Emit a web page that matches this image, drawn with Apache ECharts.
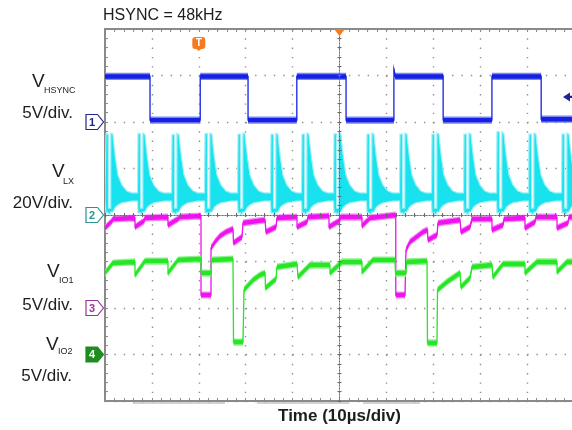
<!DOCTYPE html>
<html><head><meta charset="utf-8">
<script src="https://cdn.jsdelivr.net/npm/echarts@6/dist/echarts.min.js"></script>
<style>html,body{margin:0;padding:0;background:#fff}#c{width:572px;height:430px}</style>
</head><body><div id="c"></div>
<script>
// ================= DATA (time in µs, values in volts) =================
const timeRangeUs = [0, 100];           // 10 divisions, 10 µs/div
const titleText = 'HSYNC = 48kHz';
const xAxisTitle = 'Time (10µs/div)';
const channelNames = ['1', '2', '3', '4'];
const channelLabels = [
  { v: 'V', sub: 'HSYNC', scale: '5V/div.' },
  { v: 'V', sub: 'LX', scale: '20V/div.' },
  { v: 'V', sub: 'IO1', scale: '5V/div.' },
  { v: 'V', sub: 'IO2', scale: '5V/div.' }
];
const groundVolts = [0, 0, 0, 0];
const triggerTimeUs = 20;
const centerTimeUs = 50;
const triggerLevelV = 2.7;

// CH1 HSYNC, 5 V/div  [µs, V]
const ch1 = [[0,4.9],[9.6,4.9],[9.6,0.2],[20.3,0.2],[20.3,4.9],[30.5,4.9],[30.5,0.2],[40.9,0.2],[40.9,4.9],
  [51.4,4.9],[51.4,0.2],[61.6,0.2],[61.6,5.6],[61.9,4.9],[72.1,4.9],[72.1,0.2],[82.5,0.2],[82.5,4.9],
  [93.0,4.9],[93.0,0.3],[100.5,0.3]];

// CH2 LX, 20 V/div  [µs, upper envelope V, lower envelope V]
const ch2 = [
  [0,9.5,6.0],[0.2,34.8,0.9],[0.73,34.8,0.9],[0.75,3.0,0.4],[1.22,3.0,0.4],[1.24,35.3,1.3],[1.69,34.8,1.3],[1.91,30.1,2.2],[2.23,24.5,3.4],[2.76,17.2,4.3],[3.61,12.9,5.2],[4.68,10.3,5.6],[5.74,9.5,6.0],
  [6.93,9.5,6.0],[7.04,35.0,0.9],[7.57,35.0,0.9],[7.59,3.0,0.4],[8.06,3.0,0.4],[8.08,35.3,1.3],[8.53,34.6,1.3],[8.75,30.0,2.2],[9.07,24.3,3.4],[9.60,17.0,4.3],[10.45,12.8,5.2],[11.52,10.3,5.6],[12.58,9.5,6.0],
  [14.18,9.5,6.0],[14.29,34.6,0.9],[14.82,34.6,0.9],[14.84,3.0,0.4],[15.31,3.0,0.4],[15.33,35.1,1.3],[15.78,34.6,1.3],[16.00,30.1,2.2],[16.32,24.6,3.4],[16.85,17.3,4.3],[17.70,12.9,5.2],[18.77,10.4,5.6],[19.83,9.5,6.0],
  [21.21,9.5,6.0],[21.32,35.0,0.9],[21.85,35.0,0.9],[21.87,3.0,0.4],[22.34,3.0,0.4],[22.36,35.3,1.3],[22.81,34.8,1.3],[23.03,30.2,2.2],[23.35,24.5,3.4],[23.88,17.2,4.3],[24.73,12.9,5.2],[25.80,10.3,5.6],[26.86,9.5,6.0],
  [28.25,9.5,6.0],[28.36,34.8,0.9],[28.89,34.8,0.9],[28.91,3.0,0.4],[29.38,3.0,0.4],[29.40,35.3,1.3],[29.85,34.8,1.3],[30.07,30.1,2.2],[30.39,24.5,3.4],[30.92,17.2,4.3],[31.77,12.9,5.2],[32.84,10.3,5.6],[33.90,9.5,6.0],
  [35.28,9.5,6.0],[35.39,34.7,0.9],[35.92,34.7,0.9],[35.94,3.0,0.4],[36.41,3.0,0.4],[36.43,35.2,1.3],[36.88,34.7,1.3],[37.10,30.0,2.2],[37.42,24.4,3.4],[37.95,17.1,4.3],[38.80,12.8,5.2],[39.87,10.3,5.6],[40.93,9.5,6.0],
  [41.89,9.5,6.0],[42.00,34.8,0.9],[42.53,34.8,0.9],[42.55,3.0,0.4],[43.02,3.0,0.4],[43.04,35.3,1.3],[43.49,34.8,1.3],[43.71,30.1,2.2],[44.03,24.5,3.4],[44.56,17.2,4.3],[45.41,12.9,5.2],[46.48,10.3,5.6],[47.54,9.5,6.0],
  [48.72,9.5,6.0],[48.83,34.9,0.9],[49.36,34.9,0.9],[49.38,3.0,0.4],[49.85,3.0,0.4],[49.87,35.3,1.3],[50.32,34.8,1.3],[50.54,30.1,2.2],[50.86,24.5,3.4],[51.39,17.2,4.3],[52.24,12.9,5.2],[53.31,10.3,5.6],[54.37,9.5,6.0],
  [55.75,9.5,6.0],[55.86,34.8,0.9],[56.39,34.8,0.9],[56.41,3.0,0.4],[56.88,3.0,0.4],[56.90,35.3,1.3],[57.35,34.8,1.3],[57.57,30.1,2.2],[57.89,24.5,3.4],[58.42,17.2,4.3],[59.27,12.9,5.2],[60.34,10.3,5.6],[61.40,9.5,6.0],
  [62.79,9.5,6.0],[62.90,34.8,0.9],[63.43,34.8,0.9],[63.45,3.0,0.4],[63.92,3.0,0.4],[63.94,35.3,1.3],[64.39,34.8,1.3],[64.61,30.1,2.2],[64.93,24.5,3.4],[65.46,17.2,4.3],[66.31,12.9,5.2],[67.38,10.3,5.6],[68.44,9.5,6.0],
  [69.61,9.5,6.0],[69.72,34.8,0.9],[70.25,34.8,0.9],[70.27,3.0,0.4],[70.74,3.0,0.4],[70.76,35.3,1.3],[71.21,34.8,1.3],[71.43,30.1,2.2],[71.75,24.5,3.4],[72.28,17.2,4.3],[73.13,12.9,5.2],[74.20,10.3,5.6],[75.26,9.5,6.0],
  [76.44,9.5,6.0],[76.55,34.8,0.9],[77.08,34.8,0.9],[77.10,3.0,0.4],[77.57,3.0,0.4],[77.59,35.3,1.3],[78.04,34.8,1.3],[78.26,30.1,2.2],[78.58,24.5,3.4],[79.11,17.2,4.3],[79.96,12.9,5.2],[81.03,10.3,5.6],[82.09,9.5,6.0],
  [83.47,9.5,6.0],[83.58,35.8,0.9],[84.11,35.8,0.9],[84.13,3.0,0.4],[84.60,3.0,0.4],[84.62,35.8,1.3],[85.07,35.0,1.3],[85.29,30.3,2.2],[85.61,24.6,3.4],[86.14,17.3,4.3],[86.99,12.9,5.2],[88.06,10.3,5.6],[89.12,9.5,6.0],
  [90.30,9.5,6.0],[90.41,34.8,0.9],[90.94,34.8,0.9],[90.96,3.0,0.4],[91.43,3.0,0.4],[91.45,35.3,1.3],[91.90,34.8,1.3],[92.12,30.1,2.2],[92.44,24.5,3.4],[92.97,17.2,4.3],[93.82,12.9,5.2],[94.89,10.3,5.6],[95.95,9.5,6.0],
  [97.33,9.5,6.0],[97.44,34.8,0.9],[97.97,34.8,0.9],[97.99,3.0,0.4],[98.46,3.0,0.4],[98.48,35.3,1.3],[98.93,34.8,1.3],[99.15,30.1,2.2],[99.47,24.5,3.4],[100.00,17.2,4.3],[100.85,12.9,5.2]
];

// CH3 IO1, 5 V/div  [µs, V]
const ch3 = [[0,8.6],[1.49,9.35],[1.71,9.57],[6.40,9.68],[6.40,8.71],[8.32,9.35],[8.53,9.68],[13.43,9.78],[13.43,8.92],
  [15.57,9.57],[15.99,9.78],[20.47,9.89],[20.47,1.40],[22.60,1.40],[22.60,6.45],[23.45,7.10],[24.52,7.74],[25.80,8.17],
  [27.29,8.49],[27.40,6.99],[29.21,7.63],[29.42,9.14],[34.12,9.46],[34.33,8.17],[36.46,8.71],[36.67,9.68],[40.94,9.78],
  [40.94,8.71],[43.07,9.25],[43.28,9.78],[47.76,9.89],[47.76,8.71],[49.89,9.35],[50.32,9.78],[54.80,9.78],[54.80,8.82],
  [56.50,9.68],[62.0,10.0],[62.0,1.40],[63.97,1.40],[64.18,6.24],[65.03,7.10],[67.80,8.17],[68.76,8.39],[68.87,7.31],
  [70.79,7.85],[71.00,9.14],[75.69,9.46],[75.91,8.17],[77.83,8.71],[78.25,9.57],[82.52,9.57],[82.52,8.39],[84.86,8.92],
  [85.07,9.57],[89.55,9.68],[89.55,8.60],[91.68,9.25],[91.90,9.78],[96.38,9.78],[96.38,8.60],[98.72,9.14],[98.93,9.78],[100.5,9.78]];

// CH4 IO2, 5 V/div  [µs, V]
const ch4 = [[0,8.76],[1.71,9.84],[6.40,9.95],[6.40,8.55],[8.53,10.05],[13.43,10.05],[13.43,8.76],[15.57,10.16],[20.47,10.27],
  [20.47,8.76],[22.60,8.76],[22.71,10.16],[27.29,10.27],[27.40,1.34],[29.42,1.34],[29.64,6.94],[31.56,8.01],[33.05,8.55],
  [34.12,8.76],[34.22,7.15],[36.46,8.12],[36.67,9.41],[40.94,9.73],[41.15,8.33],[43.71,9.62],[47.97,9.62],[47.97,8.76],
  [50.53,9.95],[54.80,9.95],[54.80,8.87],[57.14,10.16],[61.83,10.16],[61.94,8.76],[64.18,8.76],[64.29,9.95],[68.66,10.05],
  [68.76,1.24],[70.79,1.24],[70.90,6.94],[72.92,7.80],[75.69,8.76],[75.91,7.26],[77.83,8.23],[78.25,9.41],[82.52,9.62],
  [82.73,8.33],[84.86,9.73],[89.55,9.73],[89.55,8.76],[92.11,9.95],[96.38,9.95],[96.38,8.87],[98.51,9.95],[100.5,9.95]];

// ================= CHART =================
const FONT = '"Liberation Sans", Arial, sans-serif';
const chart = echarts.init(document.getElementById('c'));

function bandPts(pts, h) {
  const up = pts.map(p => [p[0], p[1] - h]);
  const dn = pts.slice().reverse().map(p => [p[0], p[1] + h]);
  return up.concat(dn);
}
function traceSeries(data, yIdx, main, fringe) {
  return {
    type: 'custom', xAxisIndex: 0, yAxisIndex: yIdx, data: data, clip: true, silent: true, z: 3,
    renderItem: function (params, api) {
      if (params.dataIndex !== 0) return null;
      const pts = data.map(d => api.coord([d[0], d[1]]));
      return { type: 'group', children: [
        { type: 'polygon', shape: { points: bandPts(pts, 3.6) }, style: { fill: fringe } },
        { type: 'polygon', shape: { points: bandPts(pts, 2.2) }, style: { fill: main } },
        { type: 'polyline', shape: { points: pts }, style: { stroke: main, lineWidth: 1.3, fill: null } }
      ]};
    }
  };
}
function txt(text, x, y, size, align, extra) {
  return Object.assign({ type: 'text', z: 20, style: {
    text: text, x: x, y: y, font: size + 'px ' + FONT, fill: '#1d1d1b',
    align: align, textAlign: align, verticalAlign: 'middle', textVerticalAlign: 'middle'
  }}, extra || {});
}

const borderAxis = {
  axisLine: { onZero: false, lineStyle: { color: '#8a8a8a', width: 2 } },
  axisTick: { show: true, inside: true, length: 3, lineStyle: { color: '#8a8a8a', width: 1 } },
  minorTick: { show: true, splitNumber: 5, length: 3, lineStyle: { color: '#8a8a8a', width: 1 } },
  axisLabel: { show: false }
};
const centerAxis = {
  z: 10,
  axisLine: { onZero: false, lineStyle: { color: '#6a6a6a', width: 1, type: [1, 2] } },
  axisTick: { show: true, inside: true, length: 2, lineStyle: { color: '#6a6a6a', width: 1 } },
  minorTick: { show: true, splitNumber: 5, length: 2, lineStyle: { color: '#6a6a6a', width: 1 } },
  axisLabel: { show: false }, splitLine: { show: false }
};
const xBase = { type: 'value', min: timeRangeUs[0], max: timeRangeUs[1], interval: 10 };
const yBase = { type: 'value', min: -4, max: 4, interval: 1 };

const markerStyles = [
  { fill: '#ffffff', stroke: '#25258c', text: '#25258c' },
  { fill: '#ffffff', stroke: '#2a9292', text: '#2a9292' },
  { fill: '#ffffff', stroke: '#9c309c', text: '#9c309c' },
  { fill: '#1f8c1f', stroke: '#1f8c1f', text: '#ffffff' }
];

const series = [
  traceSeries(ch1, 1, '#1422e2', '#7f86f0'),
  {
    type: 'custom', xAxisIndex: 0, yAxisIndex: 2, data: ch2, clip: true, silent: true, z: 3,
    renderItem: function (params, api) {
      if (params.dataIndex !== 0) return null;
      const up = ch2.map(d => api.coord([d[0], d[1]]));
      const lo = ch2.map(d => api.coord([d[0], d[2]])).reverse();
      return { type: 'polygon', shape: { points: up.concat(lo) },
        style: { fill: '#17e2ee', stroke: '#9ff0f6', lineWidth: 1.2 } };
    }
  },
  traceSeries(ch3, 3, '#ee14ee', '#f58cf5'),
  traceSeries(ch4, 4, '#26e626', '#93f093')
];

channelNames.forEach(function (name, k) {
  series.push({
    type: 'custom', xAxisIndex: 0, yAxisIndex: k + 1, data: [[timeRangeUs[0], groundVolts[k]]],
    clip: false, silent: true, z: 6,
    renderItem: function (params, api) {
      const p = api.coord([api.value(0), api.value(1)]);
      const x = p[0], y = p[1], s = markerStyles[k];
      return { type: 'group', children: [
        { type: 'polygon', shape: { points: [[x - 19, y - 7.5], [x - 7.5, y - 7.5], [x - 1.5, y], [x - 7.5, y + 7.5], [x - 19, y + 7.5]] },
          style: { fill: s.fill, stroke: s.stroke, lineWidth: 1.2 } },
        { type: 'text', style: { text: name, x: x - 13, y: y + 0.5, font: 'bold 11px ' + FONT, fill: s.text,
          align: 'center', textAlign: 'center', verticalAlign: 'middle', textVerticalAlign: 'middle' } }
      ]};
    }
  });
});

// trigger position "T" marker and horizontal-position triangle
series.push({
  type: 'custom', xAxisIndex: 0, yAxisIndex: 0, data: [[triggerTimeUs, 4]], clip: false, silent: true, z: 6,
  renderItem: function (params, api) {
    const p = api.coord([api.value(0), api.value(1)]);
    const x = p[0], y = p[1];
    return { type: 'group', children: [
      { type: 'rect', shape: { x: x - 6.5, y: y + 8, width: 13, height: 12, r: 3 }, style: { fill: '#f47b20' } },
      { type: 'polygon', shape: { points: [[x - 3.5, y + 19], [x + 3.5, y + 19], [x, y + 22]] }, style: { fill: '#f47b20' } },
      { type: 'text', style: { text: 'T', x: x, y: y + 14.5, font: 'bold 10px ' + FONT, fill: '#fff',
        align: 'center', textAlign: 'center', verticalAlign: 'middle', textVerticalAlign: 'middle' } }
    ]};
  }
});
series.push({
  type: 'custom', xAxisIndex: 0, yAxisIndex: 0, data: [[centerTimeUs, 4]], clip: false, silent: true, z: 12,
  renderItem: function (params, api) {
    const p = api.coord([api.value(0), api.value(1)]);
    return { type: 'polygon', shape: { points: [[p[0] - 5.5, p[1]], [p[0] + 5.5, p[1]], [p[0], p[1] + 7]] },
      style: { fill: '#f47b20' } };
  }
});
// trigger level arrow (channel 1)
series.push({
  type: 'custom', xAxisIndex: 0, yAxisIndex: 1, data: [[timeRangeUs[1], triggerLevelV]], clip: false, silent: true, z: 6,
  renderItem: function (params, api) {
    const p = api.coord([api.value(0), api.value(1)]);
    const x = p[0], y = p[1];
    return { type: 'polygon', shape: { points: [[x - 11, y], [x - 4, y - 4.5], [x - 4, y - 1.2], [x, y - 1.2], [x, y + 1.2], [x - 4, y + 1.2], [x - 4, y + 4.5]] },
      style: { fill: '#1e2596' } };
  }
});

const option = {
  animation: false,
  backgroundColor: '#ffffff',
  grid: { left: 105, top: 29, width: 469, height: 372, show: false, outerBoundsMode: 'none', containLabel: false },
  xAxis: [
    Object.assign({}, xBase, borderAxis, {
      position: 'bottom',
      splitLine: { show: true, lineStyle: { color: '#8f8f8f', width: 1.4, type: [1.4, 7.9] } },
      name: xAxisTitle, nameLocation: 'middle', nameGap: 7,
      nameTextStyle: { fontFamily: FONT, fontWeight: 'bold', fontSize: 17, color: '#1d1d1b', verticalAlign: 'top' }
    }),
    Object.assign({}, xBase, borderAxis, { position: 'top', splitLine: { show: false } }),
    Object.assign({}, xBase, centerAxis, { position: 'top', offset: -186 }),
    Object.assign({}, xBase, centerAxis, { position: 'bottom', offset: -186 })
  ],
  yAxis: [
    Object.assign({}, yBase, borderAxis, {
      position: 'left',
      splitLine: { show: true, lineStyle: { color: '#8f8f8f', width: 1.4, type: [1.4, 7.98] } }
    }),
    { type: 'value', min: -30, max: 10, show: false },
    { type: 'value', min: -80, max: 80, show: false },
    { type: 'value', min: -10, max: 30, show: false },
    { type: 'value', min: -5, max: 35, show: false },
    Object.assign({}, yBase, centerAxis, { position: 'left', offset: -234.5 }),
    Object.assign({}, yBase, centerAxis, { position: 'right', offset: -234.5 })
  ],
  series: series,
  graphic: [
    txt(titleText, 103, 16, 16, 'left'),
    txt(channelLabels[0].v, 32, 81.5, 19, 'left'), txt(channelLabels[0].sub, 44, 90.5, 9, 'left'),
    txt(channelLabels[0].scale, 73, 113.5, 17, 'right'),
    txt(channelLabels[1].v, 52, 171.5, 19, 'left'), txt(channelLabels[1].sub, 63, 181.5, 9, 'left'),
    txt(channelLabels[1].scale, 73, 203.5, 17, 'right'),
    txt(channelLabels[2].v, 47, 271.5, 19, 'left'), txt(channelLabels[2].sub, 59, 280.5, 9, 'left'),
    txt(channelLabels[2].scale, 73, 305, 17, 'right'),
    txt(channelLabels[3].v, 46, 344.5, 19, 'left'), txt(channelLabels[3].sub, 58, 351.5, 9, 'left'),
    txt(channelLabels[3].scale, 72, 376, 17, 'right'),
    { type: 'line', shape: { x1: 133, y1: 403, x2: 225, y2: 403 }, style: { stroke: '#a8a8a8', lineWidth: 1 } },
    { type: 'line', shape: { x1: 257, y1: 403, x2: 349, y2: 403 }, style: { stroke: '#a8a8a8', lineWidth: 1 } },
    { type: 'line', shape: { x1: 363, y1: 403, x2: 420, y2: 403 }, style: { stroke: '#a8a8a8', lineWidth: 1 } }
  ]
};
chart.setOption(option);
</script>
</body></html>
